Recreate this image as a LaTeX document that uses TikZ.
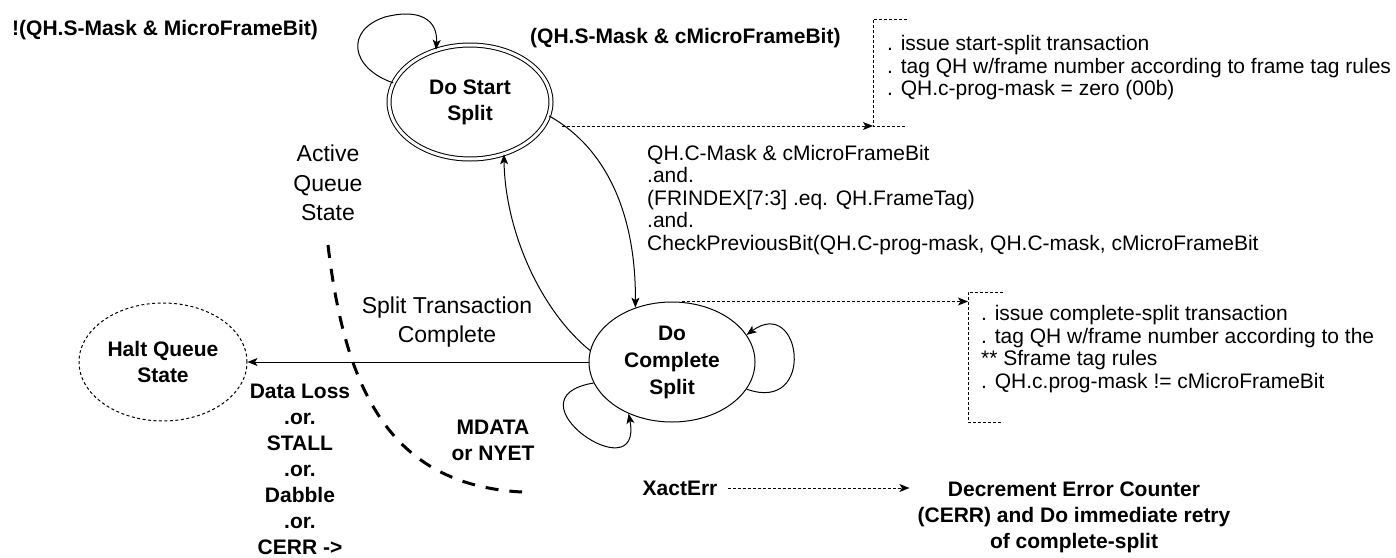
\documentclass[tikz,border=0pt]{standalone}
\usepackage{fontspec}
\setmainfont{Liberation Sans}
\usetikzlibrary{arrows.meta,shapes.geometric}
\tikzset{
  qstate/.style={ellipse, draw, line width=1pt, inner sep=0pt, align=center,
    font=\bfseries\fontsize{21}{26}\selectfont},
  boldlbl/.style={inner sep=2pt, align=center, font=\bfseries\fontsize{21}{26}\selectfont},
  plainlbl/.style={inner sep=2pt, align=left, font=\fontsize{21}{22.5}\selectfont},
  biglbl/.style={inner sep=2pt, align=center, font=\fontsize{23}{29.5}\selectfont},
  arr/.style={line width=1pt, -{Stealth[length=10pt,width=8pt,inset=2.5pt]}},
  dotline/.style={line width=1pt, dash pattern=on 3pt off 2pt},
  dotarrow/.style={dotline, -{Stealth[length=10pt,width=8pt,inset=2.5pt]}},
  boundary/.style={line width=3pt, dash pattern=on 13pt off 11pt}
}
\begin{document}
\begin{tikzpicture}[x=1pt,y=-1pt]
\fill[white] (0,0) rectangle (1396,557);
\useasboundingbox (0,0) rectangle (1396,557);
% states
\node[qstate, double, double distance=3pt, minimum width=162pt, minimum height=114pt] (dss) at (470,102) {Do Start\\Split};
\node[qstate, minimum width=166pt, minimum height=120pt, font=\bfseries\fontsize{21}{27}\selectfont] (dcs) at (672,362) {Do\\Complete\\Split};
\node[qstate, dash pattern=on 3pt off 2.5pt, minimum width=168pt, minimum height=118pt] (halt) at (163,362) {Halt Queue\\State};
% labels
\node[boldlbl, anchor=west] (loopcond) at (10,30) {!(QH.S-Mask \& MicroFrameBit)};
\node[boldlbl, anchor=west] (startcond) at (528,38) {(QH.S-Mask \& cMicroFrameBit)};
\node[plainlbl, anchor=west] (compcond) at (645,200) {QH.C-Mask \& cMicroFrameBit\\.and.\\(FRINDEX[7:3] .eq. QH.FrameTag)\\.and.\\CheckPreviousBit(QH.C-prog-mask, QH.C-mask, cMicroFrameBit};
\node[biglbl] (activelbl) at (328,183) {Active\\Queue\\State};
\node[biglbl] (donelbl) at (447,322) {Split Transaction\\Complete};
\node[boldlbl] (errlbl) at (300,469) {Data Loss\\.or.\\STALL\\.or.\\Dabble\\.or.\\CERR ->};
\node[boldlbl] (retrylbl) at (493,440) {MDATA\\or NYET};
\node[boldlbl] (xact) at (680,488) {XactErr};
\node[boldlbl] (decr) at (1074,517) {Decrement Error Counter\\(CERR) and Do immediate retry\\of complete-split};
\node[plainlbl, anchor=west] (startnote) at (885,68) {. issue start-split transaction\\. tag QH w/frame number according to frame tag rules\\. QH.c-prog-mask = zero (00b)};
\node[plainlbl, anchor=west] (compnote) at (979,349) {. issue complete-split transaction\\. tag QH w/frame number according to the\\{}** Sframe tag rules\\. QH.c.prog-mask != cMicroFrameBit};
\coordinate (starttip) at (873,126);
\coordinate (comptip) at (968,303);
\coordinate (aqtop) at (328,245);
\coordinate (aqend) at (522,492);
% transitions
\draw[arr] (dss.166) .. controls (350,68) and (345,30) .. (385,17) .. controls (420,8) and (438,20) .. (dss.123);
\draw[arr] (dss.-10) .. controls (610,150) and (636,220) .. (dcs.124);
\draw[arr] (dcs.172) .. controls (540,310) and (505,230) .. (dss.-57);
\draw[arr] (dcs.west) -- (halt.east);
\draw[arr] (dcs.195) .. controls +(-90,15) and +(15,80) .. (dcs.230);
\draw[arr] (dcs.-20) .. controls +(70,25) and +(55,-40) .. (dcs.20);
\draw[boundary] (aqtop) .. controls (345,390) and (390,485) .. (aqend);
% notes
\draw[dotline] (907,19) -- (873,19) -- (starttip) -- (907,126);
\draw[dotarrow] ([xshift=10pt]dss.east |- starttip) -- (starttip);
\draw[dotline] (1003,292) -- (968,292) -- (968,422) -- (1003,422);
\draw[dotarrow] ([xshift=10pt]dcs.north) -- (comptip |- dcs.north);
\draw[dotarrow, shorten <=8pt] (xact.east) -- ([xshift=-6pt]decr.west |- xact.east);
\end{tikzpicture}
\end{document}
